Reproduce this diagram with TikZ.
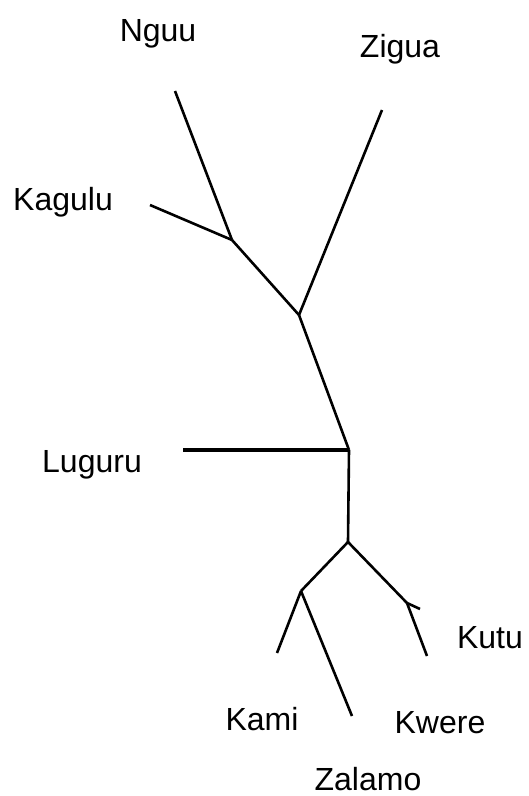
\documentclass[tikz,border=0pt]{standalone}
\usepackage{fontspec}
\setmainfont{Liberation Sans}
\begin{document}
\begin{tikzpicture}[x=1pt,y=-1pt,
  lbl/.style={anchor=base,inner sep=0pt,font=\fontsize{32}{36}\selectfont},
  branch/.style={line width=2.6pt,line cap=butt,line join=miter}]
\useasboundingbox (0,0) rectangle (528,796);
% labels
\node[lbl] (nguu) at (158,41) {Nguu};
\node[lbl] (zigua) at (400,57) {Zigua};
\node[lbl] (kagulu) at (63,210) {Kagulu};
\node[lbl] (luguru) at (92,472) {Luguru};
\node[lbl] (kutu) at (490,648) {Kutu};
\node[lbl] (kami) at (262,730) {Kami};
\node[lbl] (kwere) at (440,733) {Kwere};
\node[lbl] (zalamo) at (368,790) {Zalamo};
% tree points
\coordinate (tNguu) at (175,91);
\coordinate (tKagulu) at (150,205);
\coordinate (nA) at (232,240);
\coordinate (tZigua) at (382,110);
\coordinate (nB) at (299,315);
\coordinate (nC) at (349,450);
\coordinate (tLuguru) at (183,450);
\coordinate (nD) at (348,542);
\coordinate (nE) at (301,591);
\coordinate (tKami) at (277,653);
\coordinate (tZalamo) at (352,716);
\coordinate (nF) at (407,603);
\coordinate (tKwere) at (420,609);
\coordinate (tKutu) at (427,656);
% branches
\draw[branch] (tNguu) -- (nA);
\draw[branch] (tKagulu) -- (nA);
\draw[branch] (nA) -- (nB);
\draw[branch] (tZigua) -- (nB);
\draw[branch] (nB) -- (nC);
\draw[branch,line width=3.6pt] (tLuguru) -- (nC);
\draw[branch] (nC) -- (nD);
\draw[branch] (nD) -- (nE);
\draw[branch] (nE) -- (tKami);
\draw[branch] (nE) -- (tZalamo);
\draw[branch] (nD) -- (nF);
\draw[branch] (nF) -- (tKwere);
\draw[branch] (nF) -- (tKutu);
\end{tikzpicture}
\end{document}
